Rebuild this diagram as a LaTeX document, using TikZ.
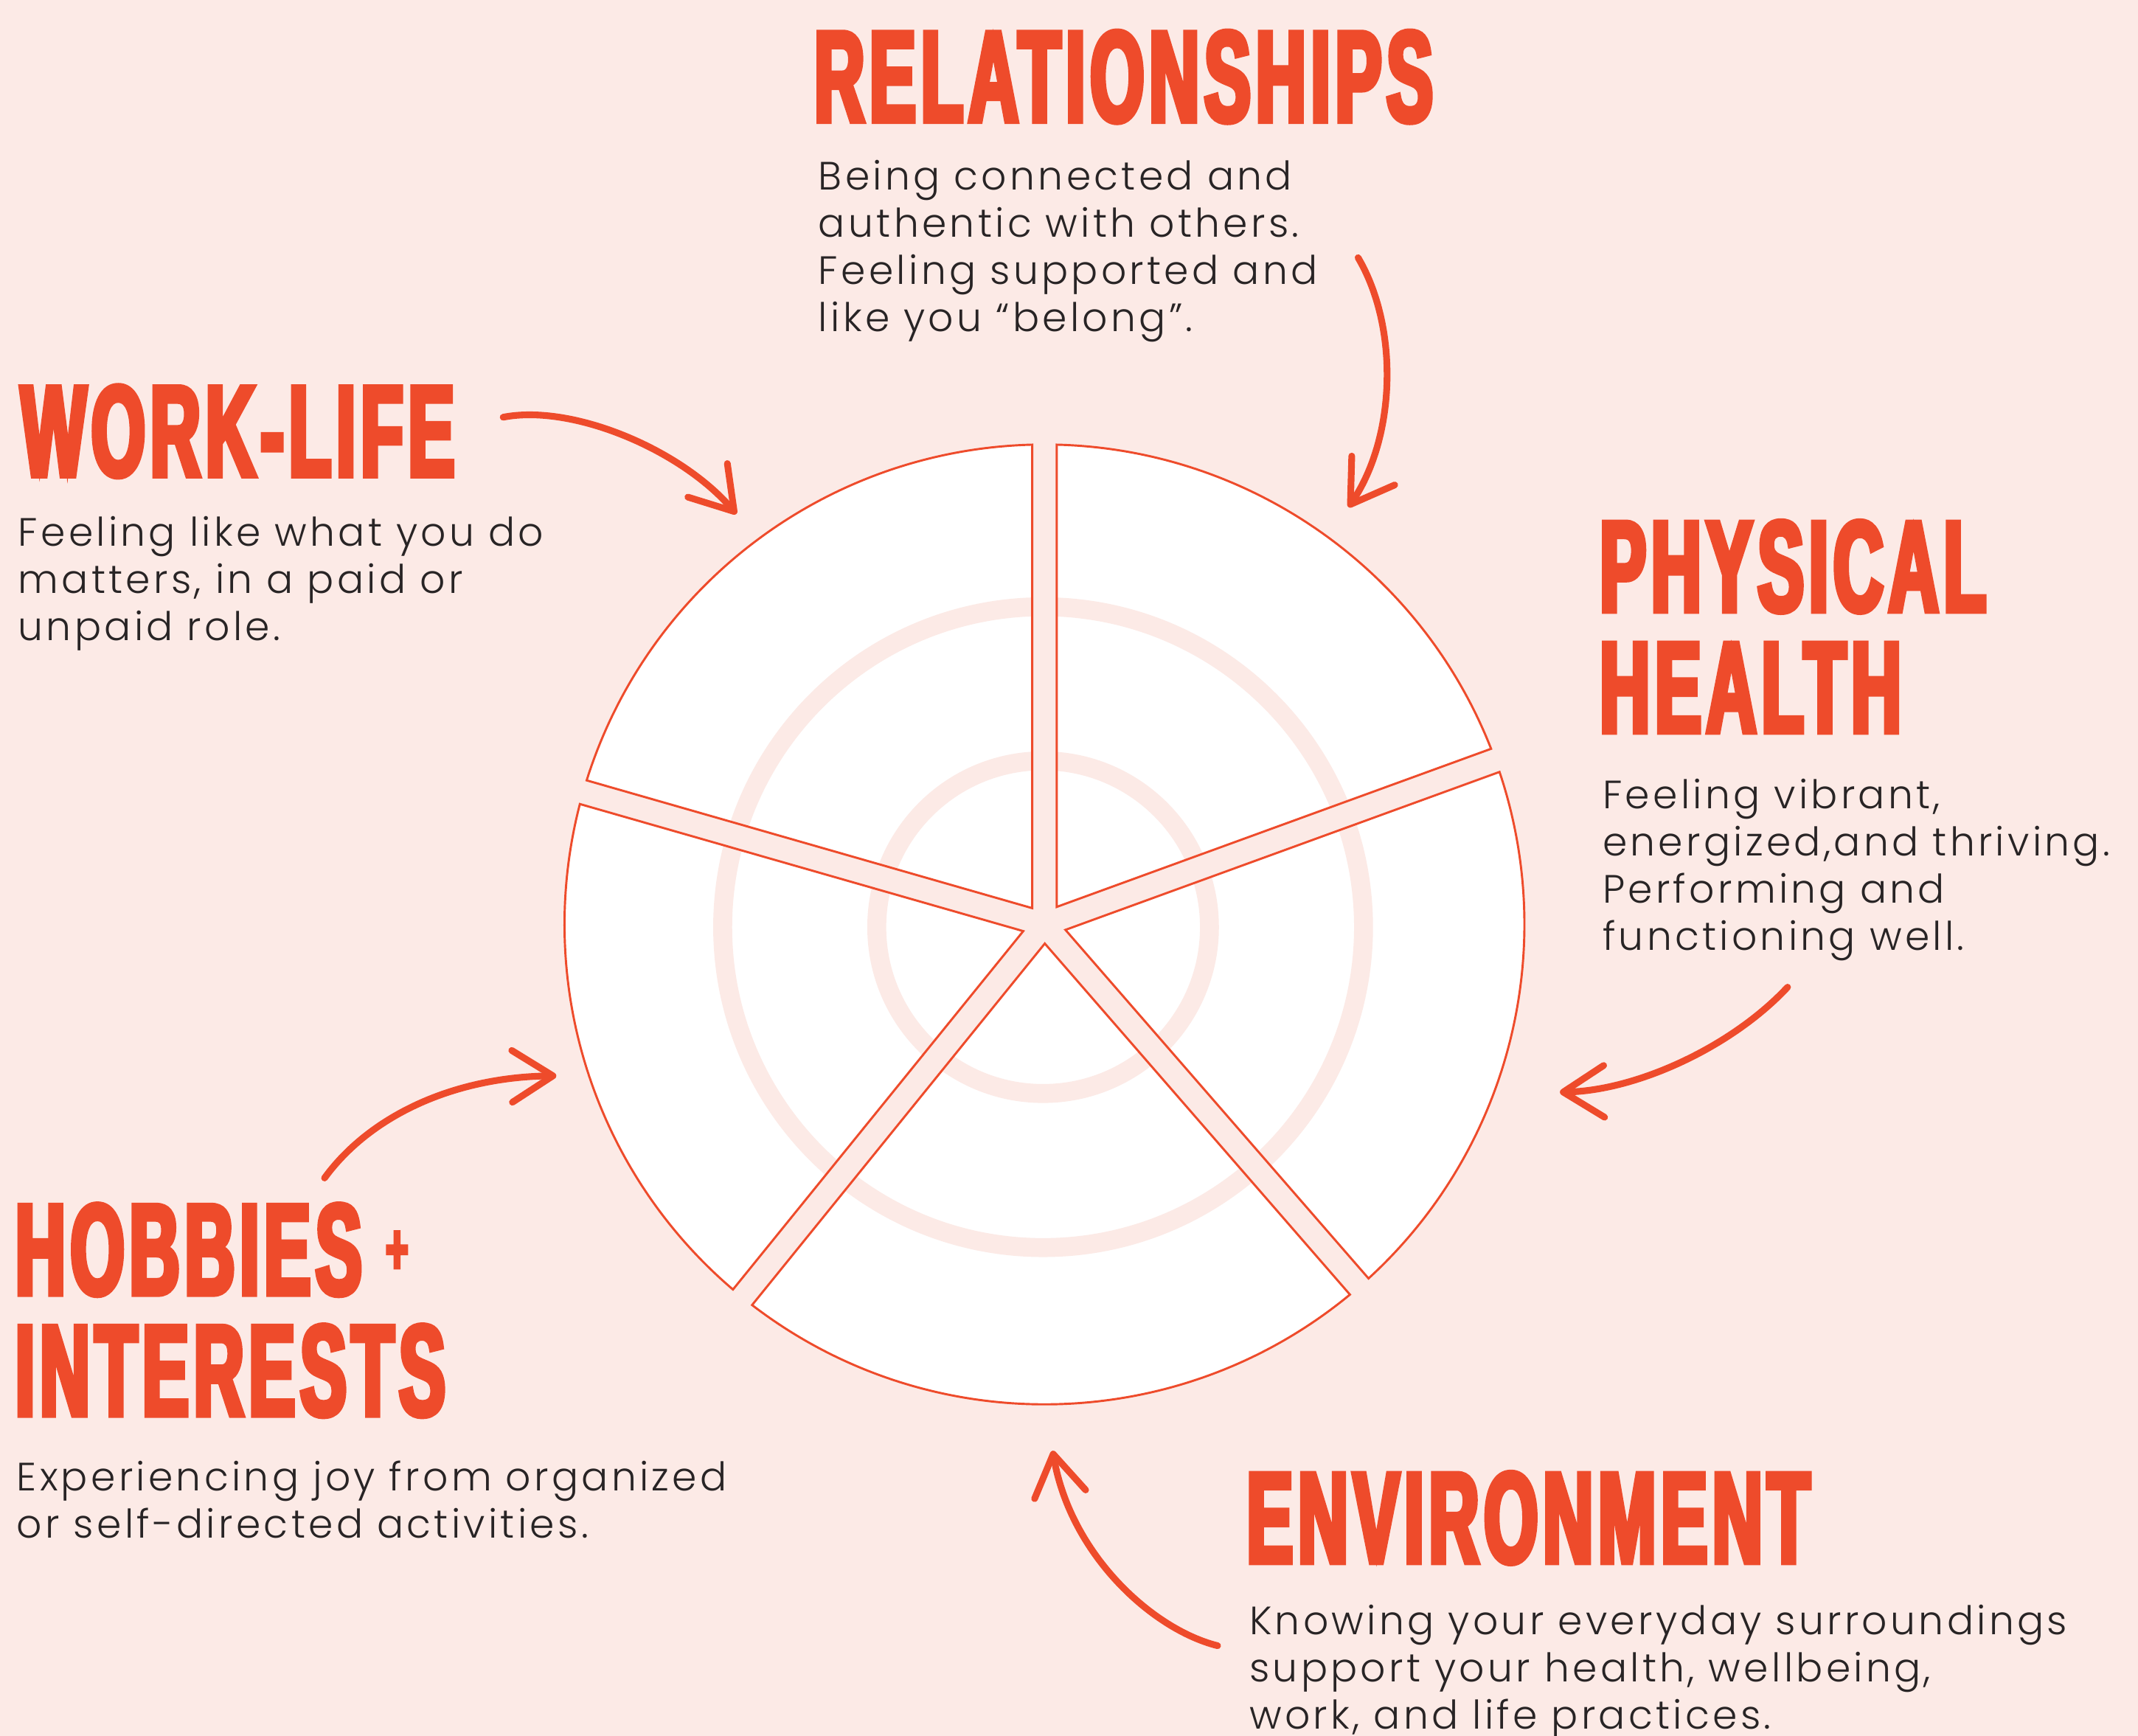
\documentclass[tikz,border=0pt]{standalone}
\usepackage{fontspec}
\setmainfont{Poppins}[UprightFont=* Light,LetterSpace=8]
\newfontfamily\headfont{Liberation Sans}[FakeStretch=0.535,LetterSpace=4,BoldFeatures={FakeBold=4}]
\usetikzlibrary{arrows.meta,positioning}

\definecolor{paper}{RGB}{252,234,230}
\definecolor{brick}{RGB}{238,75,43}
\definecolor{ink}{RGB}{40,36,37}

\tikzset{
  title/.style={font=\headfont\bfseries\fontsize{54}{50.5}\selectfont,text=brick,anchor=base west,inner sep=0pt,align=left},
  blurb/.style={font=\fontsize{16.5}{19.7}\selectfont,text=ink,anchor=base west,inner sep=0pt,align=left},
  squiggle/.style={draw=brick,line width=2.8pt,line cap=round,-{Straight Barb[length=6mm,width=7.6mm,round]}},
  rim/.style={draw=brick,line width=0.9pt},
  ring/.style={draw=paper,line width=7.9pt}
}

\begin{document}
\begin{tikzpicture}[x=0.02cm,y=-0.02cm]
\useasboundingbox (0,0) rectangle (1568,1273);
\fill[paper] (0,0) rectangle (1568,1273);

\begin{scope}[shift={(766,678)},y=0.02cm]
  \foreach \a/\b in {-49/20,20/90,90/164,164/231,231/311}{
    \pgfmathsetmacro\gapd{9/sin((\b-\a)/2)}
    \fill[white] ({(\a+\b)/2}:\gapd) -- ({\a+1.47}:352) arc[start angle={\a+1.47},end angle={\b-1.47},radius=352] -- cycle;
  }
  \draw[ring] (-1,-2) circle[radius=235] (-1,-2) circle[radius=122];
  \foreach \a/\b in {-49/20,20/90,90/164,164/231,231/311}{
    \pgfmathsetmacro\gapd{9/sin((\b-\a)/2)}
    \draw[rim] ({(\a+\b)/2}:\gapd) -- ({\a+1.47}:352) arc[start angle={\a+1.47},end angle={\b-1.47},radius=352] -- cycle;
  }
\end{scope}

\node[title] (relHead) at (597,89) {RELATIONSHIPS};
\node[blurb] (relText) at (600,243) {Being connected and\\authentic with others.\\Feeling supported and\\like you “belong”.};

\node[title] (workHead) at (15,349) {WORK-LIFE};
\node[blurb] (workText) at (13,470) {Feeling like what you do\\matters, in a paid or\\unpaid role.};

\node[title] (physHead) at (1173,537) {PHYSICAL\\HEALTH};
\node[blurb] (physText) at (1175,697) {Feeling vibrant,\\energized,and thriving.\\Performing and\\functioning well.};

\node[title] (hobHead) at (11,1038) {HOBBIES\hspace{10pt}\raisebox{8.6pt}{\fontsize{30}{30}\selectfont +}\\INTERESTS};
\node[blurb] (hobText) at (12,1128) {Experiencing joy from organized\\or self-directed activities.};

\node[title] (envHead) at (914,1146) {ENVIRONMENT};
\node[blurb] (envText) at (916,1268) {Knowing your everyday surroundings\\support your health, wellbeing,\\work, and life practices.};

\coordinate (relFrom) at (996,189);
\coordinate (relTo) at (989,372);
\coordinate (workFrom) at (369,306);
\coordinate (workTo) at (540,377);
\coordinate (physFrom) at (1311,724);
\coordinate (physTo) at (1144,801);
\coordinate (hobFrom) at (238,864);
\coordinate (hobTo) at (408,789);
\coordinate (envFrom) at (893,1207);
\coordinate (envTo) at (772,1064);

\draw[squiggle] (relFrom) .. controls (1026,240) and (1024,320) .. (relTo);
\draw[squiggle] (workFrom) .. controls (420,296) and (500,330) .. (workTo);
\draw[squiggle] (physFrom) .. controls (1270,768) and (1200,800) .. (physTo);
\draw[squiggle] (hobFrom) .. controls (270,820) and (330,790) .. (hobTo);
\draw[squiggle] (envFrom) .. controls (845,1195) and (785,1140) .. (envTo);
\end{tikzpicture}
\end{document}
